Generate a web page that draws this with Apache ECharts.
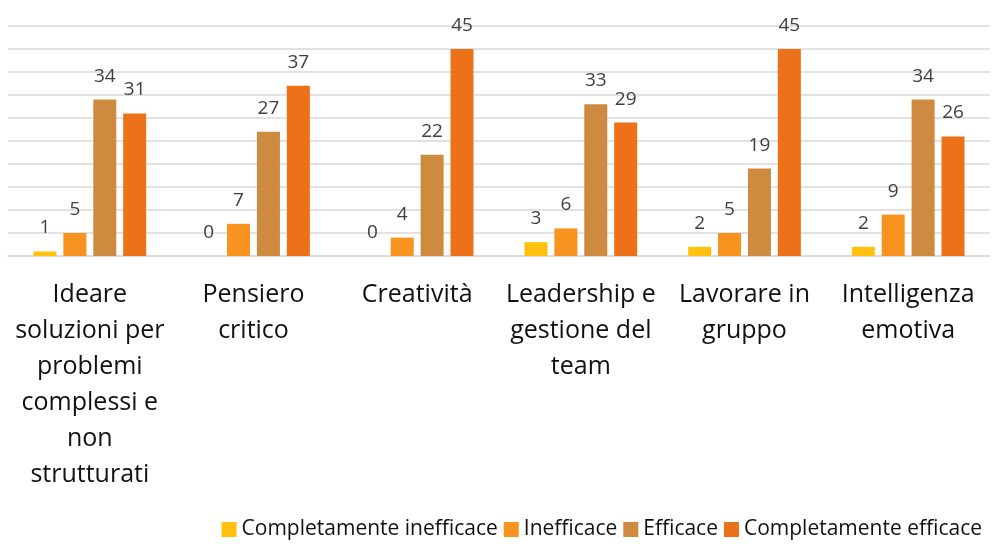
<!DOCTYPE html>
<html>
<head>
<meta charset="utf-8">
<script src="https://cdn.jsdelivr.net/npm/echarts@6/dist/echarts.min.js"></script>
<style>
  html, body { margin: 0; padding: 0; background: #fff; }
  #chart { width: 993px; height: 547px; }
</style>
</head>
<body>
<div id="chart"></div>
<script>
// categorie (asse x)
const categories = [
  'Ideare\nsoluzioni per\nproblemi\ncomplessi e\nnon\nstrutturati',
  'Pensiero\ncritico',
  'Creatività',
  'Leadership e\ngestione del\nteam',
  'Lavorare in\ngruppo',
  'Intelligenza\nemotiva'
]

const seriesNames = ['Completamente inefficace', 'Inefficace', 'Efficace', 'Completamente efficace']
const seriesColors = ['#FFC10E', '#F7931E', '#CE8B40', '#EC7118']

const completamenteInefficace = [1, 0, 0, 3, 2, 2]
const inefficace = [5, 7, 4, 6, 5, 9]
const efficace = [34, 27, 22, 33, 19, 34]
const completamenteEfficace = [31, 37, 45, 29, 45, 26]

const seriesValues = [completamenteInefficace, inefficace, efficace, completamenteEfficace]

const chart = echarts.init(document.getElementById('chart'))

const font = '"Open Sans", "Noto Sans", sans-serif'

chart.setOption({
  animation: false,
  textStyle: { fontFamily: font },
  grid: {
    left: 8,
    right: 3,
    top: 26,
    bottom: 291,
    containLabel: false
  },
  legend: {
    data: seriesNames,
    right: 6,
    bottom: 2,
    itemWidth: 15,
    itemHeight: 15,
    itemGap: 6,
    icon: 'rect',
    textStyle: { fontSize: 21, color: '#111', fontFamily: font, padding: [0, 0, 0, 0] }
  },
  xAxis: {
    type: 'category',
    data: categories,
    axisTick: { show: false },
    axisLine: { lineStyle: { color: '#D9D9D9', width: 1.5 } },
    axisLabel: {
      interval: 0,
      margin: 21,
      fontSize: 25,
      lineHeight: 36,
      color: '#111',
      fontFamily: font
    }
  },
  yAxis: {
    type: 'value',
    min: 0,
    max: 50,
    interval: 5,
    axisLabel: { show: false },
    axisLine: { show: false },
    axisTick: { show: false },
    splitLine: { lineStyle: { color: '#D9D9D9', width: 1.5 } }
  },
  series: seriesNames.map((name, i) => ({
    name,
    type: 'bar',
    data: seriesValues[i],
    barWidth: 23,
    barGap: '30%',
    itemStyle: { color: seriesColors[i] },
    label: {
      show: true,
      position: 'top',
      distance: 14,
      fontSize: 19,
      color: '#404040',
      fontFamily: font
    }
  }))
})
</script>
</body>
</html>
